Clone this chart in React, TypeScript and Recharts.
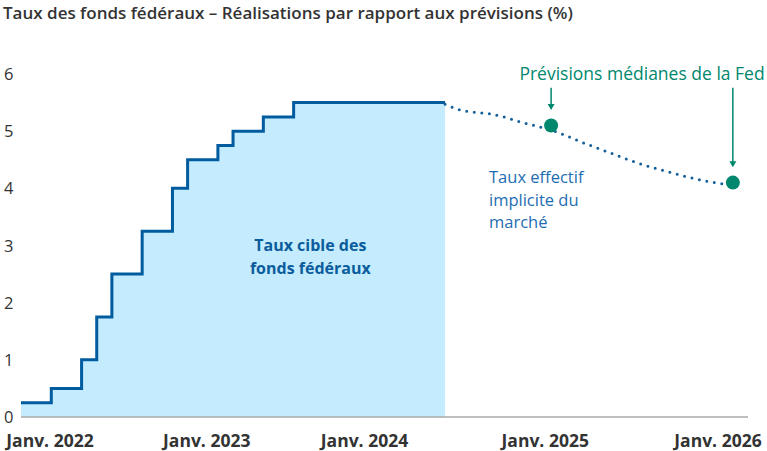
import React from 'react';
import {
  ComposedChart,
  Area,
  Line,
  Scatter,
  XAxis,
  YAxis,
  ReferenceDot,
  ReferenceLine,
} from 'recharts';

// month index from Jan 2022 (0) to Jan 2026 (48)
const targetRate = [
  0.25, 0.25, 0.5, 0.5, 1.0, 1.75, 2.5, 2.5, 3.25, 3.25, 4.0, 4.5,
  4.5, 4.75, 5.0, 5.0, 5.25, 5.25, 5.5, 5.5, 5.5, 5.5, 5.5, 5.5,
  5.5, 5.5, 5.5, 5.5, 5.5,
];
const marketMonths = [
  28, 29, 30, 31, 32, 33, 34, 35, 36, 37, 38, 39, 40, 41, 42, 43, 44, 45, 46, 47, 47.7,
];
const marketRate = [
  5.47, 5.37, 5.33, 5.3, 5.24, 5.16, 5.09, 5.02, 4.92, 4.81, 4.71, 4.61, 4.51, 4.42,
  4.34, 4.27, 4.2, 4.14, 4.09, 4.05, 4.02,
];
const fedMonths = [35, 47];
const fedMedian = [5.1, 4.1];

const yearTicks = [0, 12, 24, 36, 48];
const yearLabels = ['Janv. 2022', 'Janv. 2023', 'Janv. 2024', 'Janv. 2025', 'Janv. 2026'];
const yearShift = [29, 4, -20, -21, -30];
const rateTicks = [0, 1, 2, 3, 4, 5, 6];

const FONT = '"Open Sans", Lato, sans-serif';
const BLUE = '#005c9e';
const GREEN = '#00876d';

const rows: Record<number, { m: number; target?: number; market?: number }> = {};
targetRate.forEach((v, i) => {
  rows[i] = { ...(rows[i] || { m: i }), target: v };
});
marketMonths.forEach((m, i) => {
  rows[m] = { ...(rows[m] || { m }), market: marketRate[i] };
});
const data = Object.values(rows).sort((a, b) => a.m - b.m);
const fedData = fedMonths.map((m, i) => ({ m, fed: fedMedian[i] }));

const XTick = (props: any) => {
  const { x, y, index } = props;
  return (
    <text
      x={x + yearShift[index]}
      y={y + 22}
      textAnchor="middle"
      fontFamily={FONT}
      fontWeight={700}
      fontSize={17.5}
      fill="#333"
    >
      {yearLabels[index]}
    </text>
  );
};

const YTick = (props: any) => {
  const { y, payload } = props;
  return (
    <text x={4} y={y + 6} fontFamily={FONT} fontSize={16.5} fill="#333">
      {payload.value}
    </text>
  );
};

const textLines =
  (
    lines: string[],
    color: string,
    weight: number,
    anchor: 'start' | 'middle' | 'end',
    size: number,
  ) =>
  (props: any) => {
    const { cx, cy } = props;
    return (
      <text
        x={cx}
        y={cy}
        textAnchor={anchor}
        fontFamily={FONT}
        fontWeight={weight}
        fontSize={size}
        fill={color}
      >
        {lines.map((l, i) => (
          <tspan key={i} x={cx} dy={i === 0 ? 0 : 22.5}>
            {l}
          </tspan>
        ))}
      </text>
    );
  };

const arrow = (props: any) => {
  const { x1, y1, x2, y2 } = props;
  return (
    <g>
      <line x1={x1} y1={y1} x2={x2} y2={y2 - 4} stroke={GREEN} strokeWidth={1.5} />
      <polygon points={`${x2 - 3.5},${y2 - 6} ${x2 + 3.5},${y2 - 6} ${x2},${y2}`} fill={GREEN} />
    </g>
  );
};

const FedDot = (props: any) => {
  const { cx, cy } = props;
  return <circle cx={cx} cy={cy} r={7} fill={GREEN} />;
};

export default function App() {
  return (
    <div style={{ position: 'absolute', left: 0, top: 0, width: 767, height: 451, background: '#fff' }}>
      <div
        style={{
          position: 'absolute',
          left: 3,
          top: 1,
          fontFamily: FONT,
          fontWeight: 600,
          fontSize: 17,
          color: '#333',
          whiteSpace: 'nowrap',
        }}
      >
        Taux des fonds fédéraux – Réalisations par rapport aux prévisions (%)
      </div>
      <ComposedChart
        width={767}
        height={451}
        data={data}
        margin={{ top: 74, right: 19, left: 0, bottom: 0 }}
      >
        <XAxis
          dataKey="m"
          type="number"
          domain={[0, 48]}
          ticks={yearTicks}
          tick={<XTick />}
          tickLine={false}
          axisLine={{ stroke: '#aaa', strokeWidth: 1.5 }}
          height={34}
          interval={0}
        />
        <YAxis
          domain={[0, 6]}
          ticks={rateTicks}
          tick={<YTick />}
          axisLine={false}
          tickLine={false}
          width={21}
          interval={0}
        />
        <Area
          dataKey="target"
          type="stepAfter"
          stroke={BLUE}
          strokeWidth={3}
          fill="#c4ecfe"
          fillOpacity={1}
          isAnimationActive={false}
          dot={false}
          activeDot={false}
        />
        <Line
          dataKey="market"
          type="monotone"
          stroke="#14609c"
          strokeWidth={3}
          strokeLinecap="round"
          strokeDasharray="0 7.6"
          dot={false}
          activeDot={false}
          isAnimationActive={false}
        />
        <Scatter data={fedData} dataKey="fed" shape={<FedDot />} isAnimationActive={false} />
        <ReferenceLine
          segment={[{ x: 35, y: 5.76 }, { x: 35, y: 5.37 }]}
          shape={arrow}
          ifOverflow="visible"
        />
        <ReferenceLine
          segment={[{ x: 47, y: 5.76 }, { x: 47, y: 4.37 }]}
          shape={arrow}
          ifOverflow="visible"
        />
        <ReferenceDot
          x={49.1}
          y={5.9}
          r={0}
          ifOverflow="visible"
          shape={textLines(['Prévisions médianes de la Fed'], GREEN, 400, 'end', 17.5)}
        />
        <ReferenceDot
          x={19.1}
          y={2.9}
          r={0}
          shape={textLines(['Taux cible des', 'fonds fédéraux'], '#0b5c9c', 700, 'middle', 16)}
        />
        <ReferenceDot
          x={30.9}
          y={4.09}
          r={0}
          shape={textLines(['Taux effectif', 'implicite du', 'marché'], '#1d6db2', 400, 'start', 16.5)}
        />
      </ComposedChart>
    </div>
  );
}
